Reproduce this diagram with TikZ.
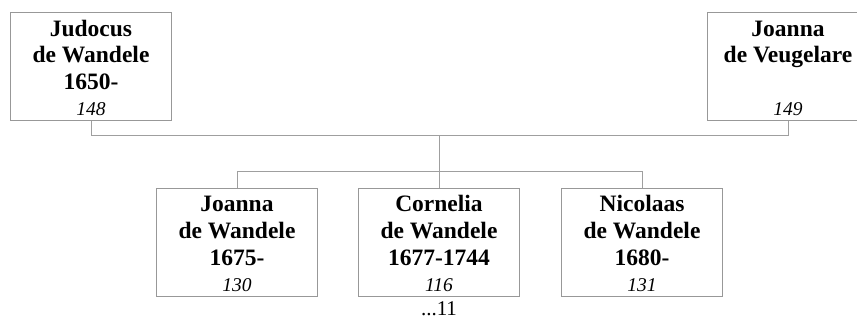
\documentclass[tikz,border=0pt]{standalone}
\usepackage{fontspec}
\setmainfont{Liberation Serif}
\usetikzlibrary{calc}
\begin{document}
\begin{tikzpicture}[x=1pt,y=-1pt,
  box/.style={draw=gray!85!black!70, line width=1pt, minimum width=161pt, minimum height=108pt, inner sep=0pt, anchor=north west},
  conn/.style={draw=gray!75, line width=1pt},
  nm/.style={anchor=north, align=center, inner sep=0pt, font=\fontsize{23.5}{26.8}\selectfont\bfseries},
  num/.style={anchor=base, inner sep=0pt, font=\fontsize{19.5}{22}\selectfont\itshape},
  more/.style={anchor=base, inner sep=0pt, font=\fontsize{21}{24}\selectfont}]
\useasboundingbox (0,0) rectangle (857,320);
\node[box] (p1) at (10,12) {};
\node[box] (p2) at (707,12) {};
\node[box] (c1) at (156,188) {};
\node[box] (c2) at (358,188) {};
\node[box] (c3) at (561,188) {};
% texts (first line carries an 18pt strut, so north = first baseline - 18)
\node[nm] (t1) at ($(p1.north)+(0,6)$) {\rule{0pt}{18pt}Judocus\\de Wandele\\1650-};
\node[num] (n1) at ($(p1.south)+(0,-5)$) {148};
\node[nm] (t2) at ($(p2.north)+(0,6)$) {\rule{0pt}{18pt}Joanna\\de Veugelare};
\node[num] (n2) at ($(p2.south)+(0,-5)$) {149};
\node[nm] (t3) at ($(c1.north)+(0,5.5)$) {\rule{0pt}{18pt}Joanna\\de Wandele\\1675-};
\node[num] (n3) at ($(c1.south)+(0,-5)$) {130};
\node[nm] (t4) at ($(c2.north)+(0,5.5)$) {\rule{0pt}{18pt}Cornelia\\de Wandele\\1677-1744};
\node[num] (n4) at ($(c2.south)+(0,-5)$) {116};
\node[nm] (t5) at ($(c3.north)+(0,5.5)$) {\rule{0pt}{18pt}Nicolaas\\de Wandele\\1680-};
\node[num] (n5) at ($(c3.south)+(0,-5)$) {131};
\node[more] (m11) at ($(c2.south)+(0,19)$) {...11};
% connectors
\draw[conn] (p1.south) -- ++(0,15) -| (p2.south);
\coordinate (fam) at ($(p1.south)!(c2.north)!(p2.south)+(0,15)$);
\draw[conn] (c2.north |- fam) -- (c2.north);
\draw[conn] (c1.north) -- ++(0,-16) -| (c3.north);
\end{tikzpicture}
\end{document}
